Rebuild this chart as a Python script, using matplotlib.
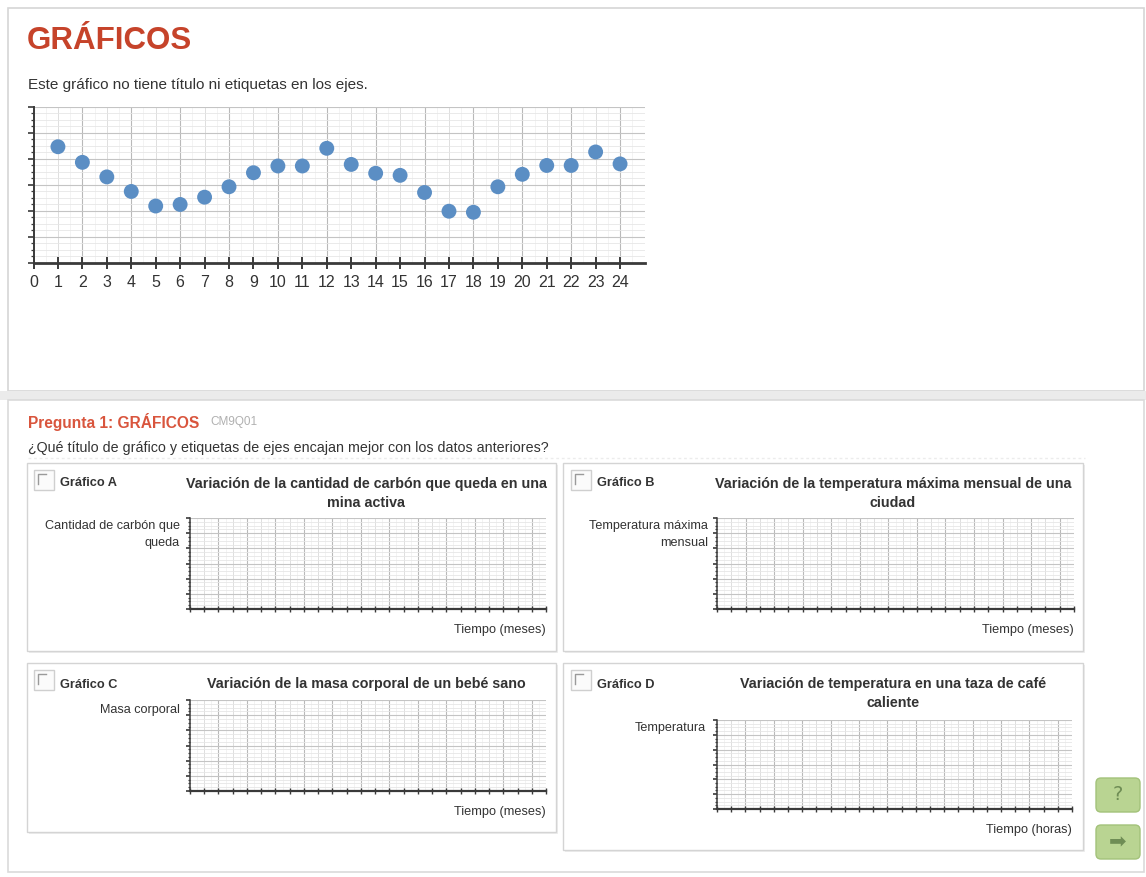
import matplotlib
matplotlib.use('Agg')
import matplotlib.pyplot as plt
from matplotlib.patches import Rectangle, FancyBboxPatch
import numpy as np

plt.rcParams['font.family'] = ['Liberation Sans', 'DejaVu Sans']

# ---------------- data ----------------
meses = list(range(1, 25))
valores = [22.3, 19.3, 16.5, 13.7, 10.9, 11.2, 12.6, 14.6, 17.3, 18.6, 18.6, 22.0,
           18.9, 17.2, 16.8, 13.5, 9.9, 9.7, 14.6, 17.0, 18.7, 18.7, 21.3, 19.0]
x_tick_labels = [str(i) for i in range(0, 25)]

page_title = "GRÁFICOS"
page_note = "Este gráfico no tiene título ni etiquetas en los ejes."
q_title = "Pregunta 1: GRÁFICOS"
q_code = "CM9Q01"
q_text = "¿Qué título de gráfico y etiquetas de ejes encajan mejor con los datos anteriores?"

option_names = ["Gráfico A", "Gráfico B", "Gráfico C", "Gráfico D"]
option_titles = ["Variación de la cantidad de carbón que queda en una\nmina activa",
                 "Variación de la temperatura máxima mensual de una\nciudad",
                 "Variación de la masa corporal de un bebé sano",
                 "Variación de temperatura en una taza de café\ncaliente"]
option_ylabels = ["Cantidad de carbón que\nqueda", "Temperatura máxima\nmensual",
                  "Masa corporal", "Temperatura"]
option_xlabels = ["Tiempo (meses)", "Tiempo (meses)", "Tiempo (meses)", "Tiempo (horas)"]

# ---------------- layout (pixels) ----------------
W, H = 1146, 877
fig = plt.figure(figsize=(W / 100, H / 100), dpi=100)
fig.patch.set_facecolor('white')

bg = fig.add_axes([0, 0, 1, 1])
bg.set_xlim(0, W)
bg.set_ylim(H, 0)
bg.axis('off')

TXT = '#333333'
RED = '#c6432a'

# page boxes
bg.add_patch(Rectangle((8, 8), 1136, 383, facecolor='white', edgecolor='#d6d6d6', lw=1.2))
bg.add_patch(Rectangle((0, 391), W, 9, facecolor='#ebebeb', edgecolor='none'))
bg.add_patch(Rectangle((8, 400), 1136, 472, facecolor='white', edgecolor='#dadada', lw=1.2))

bg.text(27, 41, page_title, fontsize=22.5, fontweight='bold', color=RED, va='center', ha='left')
bg.text(28, 85, page_note, fontsize=11, color=TXT, va='center', ha='left')

bg.text(28, 422, q_title, fontsize=11.2, fontweight='bold', color='#d9553d', va='center', ha='left')
bg.text(210, 422, q_code, fontsize=8.5, color='#b0b0b0', va='center', ha='left')
bg.text(28, 448, q_text, fontsize=10.3, color=TXT, va='center', ha='left')
bg.plot([28, 1085], [458, 458], color='#ececec', lw=1, ls=(0, (2, 2)))


def px_rect(x0, y0, x1, y1):
    return [x0 / W, 1 - y1 / H, (x1 - x0) / W, (y1 - y0) / H]


def grid_axes(x0, y0, x1, y1, big):
    ax = fig.add_axes(px_rect(x0, y0, x1, y1))
    ax.set_xlim(0, 25)
    ax.set_ylim(0, 30)
    ax.set_facecolor('white')
    for xv in np.arange(0.5, 25, 1.0):
        ax.axvline(xv, color='#f1f1f1', lw=0.6, zorder=0)
    for xv in np.arange(1, 25, 2):
        ax.axvline(xv, color='#dedede', lw=0.7, zorder=0)
    for xv in np.arange(2, 26, 2):
        ax.axvline(xv, color='#b9b9b9', lw=0.8, zorder=0)
    for yv in np.arange(1.25, 30.1, 1.25):
        ax.axhline(yv, color='#e6e6e6', lw=0.6, zorder=0)
    for yv in np.arange(5, 31, 5):
        ax.axhline(yv, color='#c4c4c4', lw=0.8, zorder=0)
    for s in ['top', 'right']:
        ax.spines[s].set_visible(False)
    ax.spines['left'].set_color('#3a3a3a')
    ax.spines['bottom'].set_color('#3a3a3a')
    ax.spines['left'].set_linewidth(1.4 if big else 1.1)
    ax.spines['bottom'].set_linewidth(2.0 if big else 1.6)
    ax.set_xticks(np.arange(0, 25, 1))
    ax.set_yticks(np.arange(0, 31, 5))
    ax.set_yticks(np.arange(0, 30.1, 1.25), minor=True)
    ax.set_yticklabels([])
    ax.tick_params(axis='y', which='major', direction='out', length=4 if big else 3,
                   width=1.2, color='#3a3a3a')
    ax.tick_params(axis='y', which='minor', direction='out', length=2.5 if big else 1.5,
                   width=0.9, color='#3a3a3a')
    ax.tick_params(axis='x', direction='inout', length=8 if big else 5,
                   width=1.4 if big else 1.0, color='#3a3a3a')
    return ax


# main chart
ax = grid_axes(33.5, 106.7, 644.5, 262.7, True)
ax.scatter(meses, valores, s=115, color='#5b8ec4', zorder=5, edgecolors='none')
ax.set_xticklabels(x_tick_labels, fontsize=11.5, color=TXT)
ax.tick_params(axis='x', pad=5)

# option panels
panels = [
    dict(box=(27, 463, 556, 651), chk=(34, 470), name=(60, 483), title=(366, 477),
         ylab=(180, 520), ax=(190, 518, 546, 609), xlab=(546, 630)),
    dict(box=(563, 463, 1083, 651), chk=(571, 470), name=(597, 483), title=(893, 477),
         ylab=(708, 520), ax=(717, 518, 1074, 609), xlab=(1074, 630)),
    dict(box=(27, 663, 556, 832), chk=(34, 670), name=(60, 685), title=(366, 677),
         ylab=(180, 704), ax=(190, 700, 546, 791), xlab=(546, 812)),
    dict(box=(563, 663, 1083, 850), chk=(571, 670), name=(597, 685), title=(893, 677),
         ylab=(706, 722), ax=(717, 720, 1072, 809), xlab=(1072, 830)),
]

for i, p in enumerate(panels):
    bx0, by0, bx1, by1 = p['box']
    bg.add_patch(Rectangle((bx0 + 1.5, by0 + 1.5), bx1 - bx0, by1 - by0, facecolor='#eeeeee',
                           edgecolor='none'))
    bg.add_patch(Rectangle((bx0, by0), bx1 - bx0, by1 - by0, facecolor='white',
                           edgecolor='#d4d4d4', lw=1.0))
    cx, cy = p['chk']
    bg.add_patch(Rectangle((cx, cy), 20, 20, facecolor='#fbfbfb', edgecolor='#cfcfcf', lw=1.0))
    bg.plot([cx + 4, cx + 4, cx + 12], [cy + 14, cy + 4, cy + 4], color='#9a9a9a', lw=1.0)
    bg.text(p['name'][0], p['name'][1], option_names[i], fontsize=9.2, fontweight='bold',
            color=TXT, va='center', ha='left')
    bg.text(p['title'][0], p['title'][1], option_titles[i], fontsize=10.3, fontweight='bold',
            color=TXT, va='top', ha='center', multialignment='center', linespacing=1.45)
    bg.text(p['ylab'][0], p['ylab'][1], option_ylabels[i], fontsize=9.1, color=TXT,
            va='top', ha='right', multialignment='right', linespacing=1.6)
    bg.text(p['xlab'][0], p['xlab'][1], option_xlabels[i], fontsize=9.2, color=TXT,
            va='center', ha='right')
    a = grid_axes(*p['ax'], False)
    a.set_xticks(np.arange(0, 26, 1))
    a.set_xticklabels([])

# green buttons
for (y0, label) in [(778, '?'), (825, '➡')]:
    bg.add_patch(FancyBboxPatch((1096, y0), 44, 34, boxstyle='round,pad=0,rounding_size=5',
                                facecolor='#b9d492', edgecolor='#a3c27a', lw=1.0))
    bg.text(1118, y0 + 17, label, fontsize=14 if label == '?' else 15, color='#6f8d55',
            ha='center', va='center', family=['DejaVu Sans'])

fig.savefig('out.png', dpi=100, facecolor='white')
